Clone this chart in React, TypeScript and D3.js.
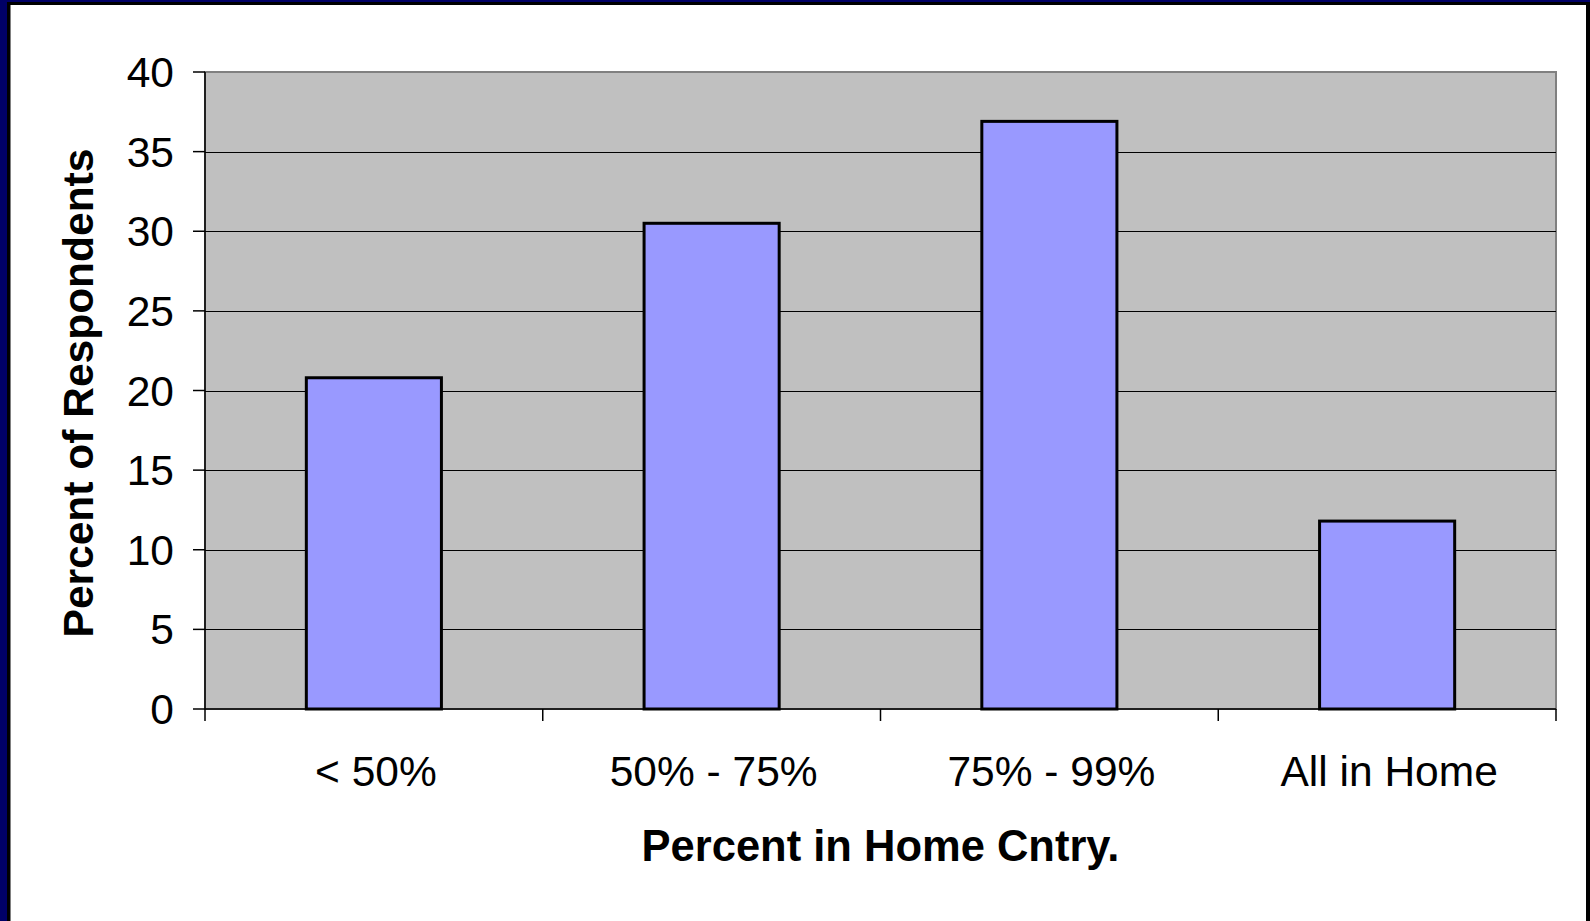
import React from "react";
import * as d3 from "d3";

const categories = ["< 50%", "50% - 75%", "75% - 99%", "All in Home"];
const values = [20.8, 30.5, 36.9, 11.8];
const yTicks = [0, 5, 10, 15, 20, 25, 30, 35, 40];
const yTitle = "Percent of Respondents";
const xTitle = "Percent in Home Cntry.";

const W = 1590;
const H = 921;
const left = 205;
const right = 1556;
const top = 72;
const bottom = 709;
const font = "'Liberation Sans', Arial, sans-serif";

export default function App() {
  const x = d3.scaleBand<string>().domain(categories).range([left, right]).paddingInner(0.6).paddingOuter(0.3);
  const y = d3.scaleLinear().domain([0, 40]).range([bottom, top]);
  const step = x.step();
  const catTicks = d3.range(categories.length + 1).map((i) => left + i * step);

  return (
    <svg width={W} height={H} style={{ position: "fixed", left: 0, top: 0, display: "block" }}>
      <rect x={0} y={0} width={W} height={H} fill="#000066" />
      <rect x={7} y={2} width={1583} height={H} fill="#000000" />
      <rect x={10} y={5} width={1576} height={H} fill="#ffffff" />
      <line x1={10.5} y1={5} x2={10.5} y2={H} stroke="#808080" strokeWidth={1} />

      {/* plot area */}
      <rect x={left} y={top} width={right - left} height={bottom - top} fill="#C0C0C0" stroke="#808080" strokeWidth={2} />

      {/* gridlines */}
      {yTicks.filter((t) => t > 0 && t < 40).map((t) => (
        <line key={t} x1={left} x2={right} y1={Math.round(y(t)) + 0.5} y2={Math.round(y(t)) + 0.5} stroke="#000" strokeWidth={1} />
      ))}

      {/* bars */}
      {categories.map((c, i) => (
        <rect
          key={c}
          x={x(c)!}
          y={y(values[i])}
          width={x.bandwidth()}
          height={bottom - y(values[i])}
          fill="#9999FF"
          stroke="#000"
          strokeWidth={3}
        />
      ))}

      {/* axes */}
      <line x1={left} x2={left} y1={top} y2={bottom} stroke="#000" strokeWidth={1.5} />
      <line x1={left} x2={right} y1={bottom} y2={bottom} stroke="#000" strokeWidth={1.5} />

      {yTicks.map((t) => (
        <g key={t}>
          <line x1={left - 12} x2={left} y1={y(t)} y2={y(t)} stroke="#000" strokeWidth={1.5} />
          <text x={174} y={y(t)} dy="0.355em" textAnchor="end" fontFamily={font} fontSize={42.5} fill="#000">
            {t}
          </text>
        </g>
      ))}

      {catTicks.map((tx, i) => (
        <line key={i} x1={tx} x2={tx} y1={bottom} y2={bottom + 12} stroke="#000" strokeWidth={1.5} />
      ))}

      {categories.map((c) => (
        <text key={c} x={x(c)! + x.bandwidth() / 2 + 2} y={786} textAnchor="middle" fontFamily={font} fontSize={42.5} fill="#000">
          {c}
        </text>
      ))}

      <text x={(left + right) / 2} y={861} textAnchor="middle" fontFamily={font} fontSize={43.5} fontWeight="bold" fill="#000">
        {xTitle}
      </text>

      <text
        transform={`translate(93, ${393}) rotate(-90)`}
        textAnchor="middle"
        fontFamily={font}
        fontSize={42.5}
        fontWeight="bold"
        fill="#000"
      >
        {yTitle}
      </text>
    </svg>
  );
}
